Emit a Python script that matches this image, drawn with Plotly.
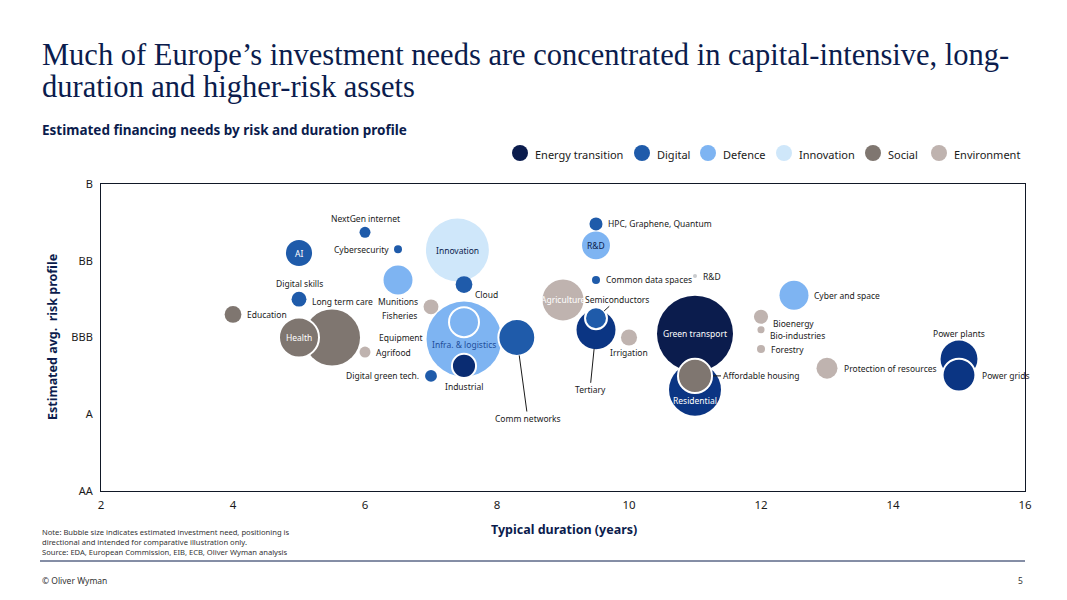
import plotly.graph_objects as go

# ---- data ----
names = [
    "Residential", "Green transport", "Affordable housing", "Infra. & logistics",
    "Equipment", "Industrial", "Innovation", "Cloud", "Long term care", "Health",
    "Tertiary", "Semiconductors", "Agriculture", "Comm networks", "Power plants",
    "Power grids", "AI", "NextGen internet", "Cybersecurity", "Munitions",
    "Digital skills", "Education", "Fisheries", "Agrifood", "Digital green tech.",
    "HPC, Graphene, Quantum", "R&D (defence)", "Common data spaces", "R&D (innovation)",
    "Irrigation", "Cyber and space", "Bioenergy", "Bio-industries", "Forestry",
    "Protection of resources",
]
categories = [
    "Energy transition", "Energy transition", "Social", "Defence",
    "Defence", "Energy transition", "Innovation", "Digital", "Social", "Social",
    "Energy transition", "Digital", "Environment", "Digital", "Energy transition",
    "Energy transition", "Digital", "Digital", "Digital", "Defence",
    "Digital", "Social", "Environment", "Environment", "Digital",
    "Digital", "Defence", "Digital", "Innovation",
    "Environment", "Defence", "Environment", "Environment", "Environment",
    "Environment",
]
duration = [
    11.0, 11.0, 11.0, 7.5,
    7.5, 7.5, 7.4, 7.5, 5.5, 5.0,
    9.5, 9.5, 9.0, 8.3, 15.0,
    15.0, 5.0, 6.0, 6.5, 6.5,
    5.0, 4.0, 7.0, 6.0, 7.0,
    9.5, 9.5, 9.5, 11.0,
    10.0, 12.5, 12.0, 12.0, 12.0,
    13.0,
]
risk = [
    1.32, 2.05, 1.5, 1.98,
    2.2, 1.63, 3.14, 2.69, 2.0, 2.0,
    2.1, 2.25, 2.49, 2.0, 1.72,
    1.51, 3.1, 3.37, 3.15, 2.75,
    2.5, 2.3, 2.4, 1.81, 1.5,
    3.48, 3.2, 2.75, 2.8,
    2.0, 2.55, 2.27, 2.1, 1.85,
    1.6,
]
# relative estimated investment need (bubble area)
need = [
    135, 289, 58, 281,
    45, 29, 198, 14, 157, 80,
    76, 24, 84, 68, 68,
    54, 34, 6, 3.2, 42,
    11, 14, 11, 6, 7,
    8.5, 39, 3.2, 0.8,
    13, 42, 10, 2.5, 3.2,
    22,
]
display_labels = {"R&D (defence)": "R&D", "R&D (innovation)": "R&D"}

risk_ticks = [0, 1, 2, 3, 4]
risk_labels = ["AA", "A", "BBB", "BB", "B"]
legend_order = ["Energy transition", "Digital", "Defence", "Innovation", "Social", "Environment"]

# ---- styling ----
NAVY = "#0B1C4D"
TEXT = "#1a1a1a"
cat_colors = {
    "Energy transition": NAVY,
    "Digital": "#1F5BAA",
    "Defence": "#7EB4F2",
    "Innovation": "#CFE7FA",
    "Social": "#7F7670",
    "Environment": "#BFB3AF",
}
color_override = {
    "Residential": "#0B3583", "Industrial": "#0A2C72", "Tertiary": "#0B3583",
    "Power plants": "#0B3583", "Power grids": "#0B3583", "R&D (innovation)": "#C9CBCE",
}
white_ring = {"Health", "Equipment", "Industrial", "Semiconductors",
              "Affordable housing", "Power grids", "Comm networks"}

colors = [color_override.get(n, cat_colors[c]) for n, c in zip(names, categories)]
ring_w = [2 if n in white_ring else 0 for n in names]

fig = go.Figure()
fig.add_trace(go.Scatter(
    x=duration, y=risk, mode="markers", text=names, hoverinfo="text",
    showlegend=False,
    marker=dict(size=need, sizemode="area", sizeref=0.1, color=colors,
                opacity=1, line=dict(color="white", width=ring_w)),
))

# labels inside bubbles: (colour, yshift)
inside = {
    "AI": ("white", 0), "Health": ("white", 0), "Innovation": (NAVY, 0),
    "R&D (defence)": (NAVY, 0), "Infra. & logistics": ("#1F4E9A", -5),
    "Agriculture": ("white", 0), "Green transport": ("white", 0),
    "Residential": ("white", -11),
}
# labels next to bubbles: (xanchor, xshift, yshift)
outside = {
    "NextGen internet": ("center", 0, 14), "Cybersecurity": ("right", -7, 0),
    "Munitions": ("center", 0, -22), "Cloud": ("center", 22, -10),
    "Digital skills": ("center", 0, 16), "Education": ("left", 12, 0),
    "Long term care": ("center", 10, 36), "Fisheries": ("right", -12, -9),
    "Equipment": ("right", -39, -15), "Industrial": ("center", 0, -21),
    "Agrifood": ("left", 9, 0), "Digital green tech.": ("right", -10, 0),
    "HPC, Graphene, Quantum": ("left", 10, 0), "Common data spaces": ("left", 8, 0),
    "R&D (innovation)": ("left", 6, 0), "Irrigation": ("center", 0, -15),
    "Cyber and space": ("left", 18, 0), "Bioenergy": ("left", 10, -7),
    "Bio-industries": ("left", 7, -6), "Forestry": ("left", 8, 0),
    "Protection of resources": ("left", 15, 0), "Power plants": ("center", 0, 25),
    "Power grids": ("left", 21, 0),
}
# labels with leader lines: (ax, ay, standoff)
leaders = {
    "Comm networks": (11, 81, 18), "Tertiary": (-6, 60, 19),
    "Semiconductors": (21, -19, 11), "Affordable housing": (66, 0, 18),
}

lab_font = dict(family="Noto Sans", size=8.5, color=TEXT)
for n, x, y in zip(names, duration, risk):
    label = display_labels.get(n, n)
    if n in inside:
        col, ys = inside[n]
        fig.add_annotation(x=x, y=y, text=label, showarrow=False, yshift=ys,
                           font=dict(family="Noto Sans", size=8.5, color=col))
    elif n in outside:
        xa, xs, ys = outside[n]
        fig.add_annotation(x=x, y=y, text=label, showarrow=False, xanchor=xa,
                           xshift=xs, yshift=ys, font=lab_font)
    elif n in leaders:
        ax, ay, so = leaders[n]
        fig.add_annotation(x=x, y=y, text=label, showarrow=True, arrowhead=0,
                           arrowwidth=1, arrowcolor=TEXT, ax=ax, ay=ay, standoff=so,
                           font=lab_font)


# pixel -> paper helpers (plot area is 101..1025 x 184..491)
def px(v):
    return (v - 101) / 924


def py(v):
    return (491 - v) / 307


def note(x, y, text, font, xanchor="left", **kw):
    fig.add_annotation(xref="paper", yref="paper", x=px(x), y=py(y), xanchor=xanchor,
                       yanchor=kw.pop("yanchor", "middle"), showarrow=False,
                       text=text, font=font, **kw)


# titles
title_font = dict(family="Liberation Serif", size=30.5, color=NAVY)
note(40, 55, "Much of Europe\u2019s investment needs are concentrated in capital-intensive, long-", title_font)
note(40, 87, "duration and higher-risk assets", title_font)
note(40, 130, "<b>Estimated financing needs by risk and duration profile</b>",
     dict(family="Noto Sans", size=13.5, color=NAVY))

# legend drawn by hand to keep the compact spacing
legend_x = [520, 642, 708, 784, 873, 939]
for cat, lx in zip(legend_order, legend_x):
    fig.add_shape(type="circle", xref="paper", yref="paper", xsizemode="pixel",
                  ysizemode="pixel", xanchor=px(lx), yanchor=py(153),
                  x0=-8, x1=8, y0=-8, y1=8, fillcolor=cat_colors[cat],
                  line=dict(width=0))
    note(lx + 13, 154, cat, dict(family="Noto Sans", size=11, color=TEXT))

# axis titles
note(564, 529, "<b>Typical duration (years)</b>",
     dict(family="Noto Sans", size=12.5, color=NAVY), xanchor="center")
note(52, 337, "<b>Estimated avg.  risk profile</b>",
     dict(family="Noto Sans", size=12.5, color=NAVY), xanchor="center", textangle=-90)

# footnote, rule and footer
note(40, 542, "Note: Bubble size indicates estimated investment need, positioning is<br>"
              "directional and intended for comparative illustration only.<br>"
              "Source: EDA, European Commission, EIB, ECB, Oliver Wyman analysis",
     dict(family="Noto Sans", size=7.6, color="#333333"), align="left")
fig.add_shape(type="line", xref="paper", yref="paper", x0=px(40), x1=px(1025),
              y0=py(561), y1=py(561), line=dict(color=NAVY, width=1))
note(40, 580, "\u00a9 Oliver Wyman", dict(family="Noto Sans", size=8.5, color="#333333"))
note(1025, 580, "5", dict(family="Noto Sans", size=8.5, color="#333333"), xanchor="right")

fig.update_xaxes(range=[2, 16], dtick=2, showgrid=False, zeroline=False,
                 showline=True, mirror=True, linecolor="#111827", linewidth=1,
                 ticks="", ticklabelstandoff=3,
                 tickfont=dict(family="Noto Sans", size=11.5, color=TEXT))
fig.update_yaxes(range=[0, 4], tickvals=risk_ticks, ticktext=risk_labels,
                 showgrid=False, zeroline=False, showline=True, mirror=True,
                 linecolor="#111827", linewidth=1, ticks="", ticklabelstandoff=5,
                 tickfont=dict(family="Noto Sans", size=11, color=TEXT))
fig.update_layout(
    width=1067, height=600,
    margin=dict(l=101, r=42, t=184, b=109),
    paper_bgcolor="white", plot_bgcolor="white",
    showlegend=False,
    font=dict(family="Noto Sans"),
)

fig.write_html("out.html", config={"displayModeBar": False},
               post_script="document.body.style.margin='0';")
